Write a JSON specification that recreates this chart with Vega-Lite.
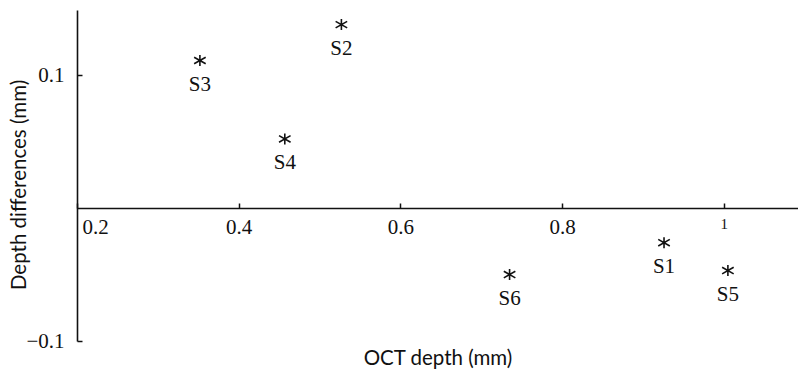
{
  "$schema": "https://vega.github.io/schema/vega-lite/v6.json",
  "width": 721,
  "height": 331,
  "autosize": {"type": "none"},
  "padding": {"left": 77, "top": 10, "right": 0, "bottom": 32},
  "background": "white",
  "config": {"view": {"stroke": null}},
  "data": {"values": [
    {"sample": "S1", "oct": 0.926, "diff": -0.026},
    {"sample": "S2", "oct": 0.527, "diff": 0.138},
    {"sample": "S3", "oct": 0.352, "diff": 0.111},
    {"sample": "S4", "oct": 0.457, "diff": 0.052},
    {"sample": "S5", "oct": 1.005, "diff": -0.047},
    {"sample": "S6", "oct": 0.735, "diff": -0.050}
  ]},
  "resolve": {"axis": {"x": "independent", "y": "independent"}},
  "layer": [
    {"mark": {"type": "point", "shape": "M0,-1L0,1M-1.05,-0.6L1.05,0.6M-1.05,0.6L1.05,-0.6", "filled": false, "size": 121, "strokeWidth": 1.6, "color": "#111", "opacity": 1},
     "encoding": {
      "x": {"field": "oct", "type": "quantitative",
        "scale": {"domain": [0.2, 1.0917], "nice": false, "zero": false},
        "axis": {
          "orient": "bottom",
          "title": "OCT depth (mm)",
          "values": [0.2, 0.4, 0.6, 0.8, 1],
          "format": ".1~f",
          "offset": -133,
          "grid": false,
          "domainColor": "#111", "domainWidth": 1.6,
          "ticks": false,
          "labelFont": "Liberation Serif", "labelFontSize": {"condition": {"test": "datum.value == 1", "value": 15}, "value": 21},
          "labelColor": "#111", "labelPadding": 8,
          "labelFlush": true, "labelFlushOffset": -5,
          "titleFont": "Lato", "titleFontSize": 20.5, "titleFontWeight": "normal", "titleColor": "#111",
          "titleY": 150, "titleBaseline": "middle"
        }},
      "y": {"field": "diff", "type": "quantitative",
        "scale": {"domain": [-0.1, 0.149], "nice": false, "zero": false},
        "axis": {
          "orient": "left",
          "title": "Depth differences (mm)",
          "values": [-0.1, 0.1],
          "format": ".1~f",
          "grid": false,
          "domainColor": "#111", "domainWidth": 1.6,
          "ticks": false,
          "labelFont": "Liberation Serif", "labelFontSize": 21, "labelColor": "#111", "labelPadding": 13,
          "titleFont": "Lato", "titleFontSize": 20.5, "titleFontWeight": "normal", "titleColor": "#111",
          "titleX": -58, "titleY": 174.5, "titleBaseline": "middle", "titleAlign": "center", "titleAngle": -90
        }}
     }},
    {"mark": {"type": "text", "font": "Liberation Serif", "fontSize": 21, "dy": 24, "baseline": "middle", "align": "center", "color": "#111"},
     "encoding": {
      "text": {"field": "sample"},
      "x": {"field": "oct", "type": "quantitative",
        "axis": {
          "orient": "top", "title": null, "labels": false, "domain": false, "grid": false,
          "values": [0.2, 0.4, 0.6, 0.8, 1], "offset": -198,
          "ticks": true, "tickSize": 5, "tickWidth": 1.5, "tickColor": "#111"
        }},
      "y": {"field": "diff", "type": "quantitative",
        "axis": {
          "orient": "right", "title": null, "labels": false, "domain": false, "grid": false,
          "values": [-0.1, 0.1], "offset": -721,
          "ticks": true, "tickSize": 5, "tickWidth": 1.5, "tickColor": "#111"
        }}
     }}
  ]
}
